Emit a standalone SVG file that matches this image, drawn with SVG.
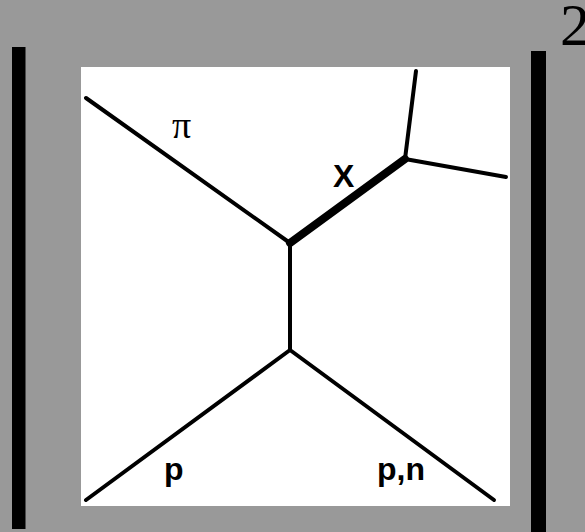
<svg xmlns="http://www.w3.org/2000/svg" width="585" height="532" viewBox="0 0 585 532">
<style>
.ln{stroke:#000;stroke-width:4;fill:none;stroke-linecap:round;stroke-linejoin:round}
.thick{stroke:#000;stroke-width:8;fill:none;stroke-linecap:round}
.lbl{font-family:"Liberation Sans",Arial,sans-serif;font-weight:bold;font-size:32px;fill:#000}
.ser{font-family:"Liberation Serif","Times New Roman",serif;fill:#000}
</style>
<rect x="0" y="0" width="585" height="532" fill="#999999"/>
<rect x="12" y="47" width="13.5" height="482" fill="#000"/>
<rect x="531" y="51" width="15" height="481" fill="#000"/>
<text class="ser" x="560" y="45" font-size="60">2</text>
<rect x="81" y="67" width="429" height="439" fill="#fff"/>
<g id="connectors">
<line class="ln" x1="86" y1="98" x2="290" y2="243"/>
<line class="ln" x1="290" y1="243" x2="290" y2="350"/>
<line class="ln" x1="290" y1="350" x2="86" y2="500"/>
<line class="ln" x1="290" y1="350" x2="494" y2="500"/>
<line class="thick" x1="290" y1="243" x2="405" y2="159"/>
<line class="ln" x1="405" y1="159" x2="416" y2="71"/>
<line class="ln" x1="405" y1="159" x2="506" y2="177"/>
</g>
<g id="label-pi"><text class="ser" x="172" y="138" font-size="38">π</text></g>
<g id="label-X"><text class="lbl" x="333" y="187">X</text></g>
<g id="label-p"><text class="lbl" x="164" y="480">p</text></g>
<g id="label-pn"><text class="lbl" x="377" y="480">p,n</text></g>
</svg>
